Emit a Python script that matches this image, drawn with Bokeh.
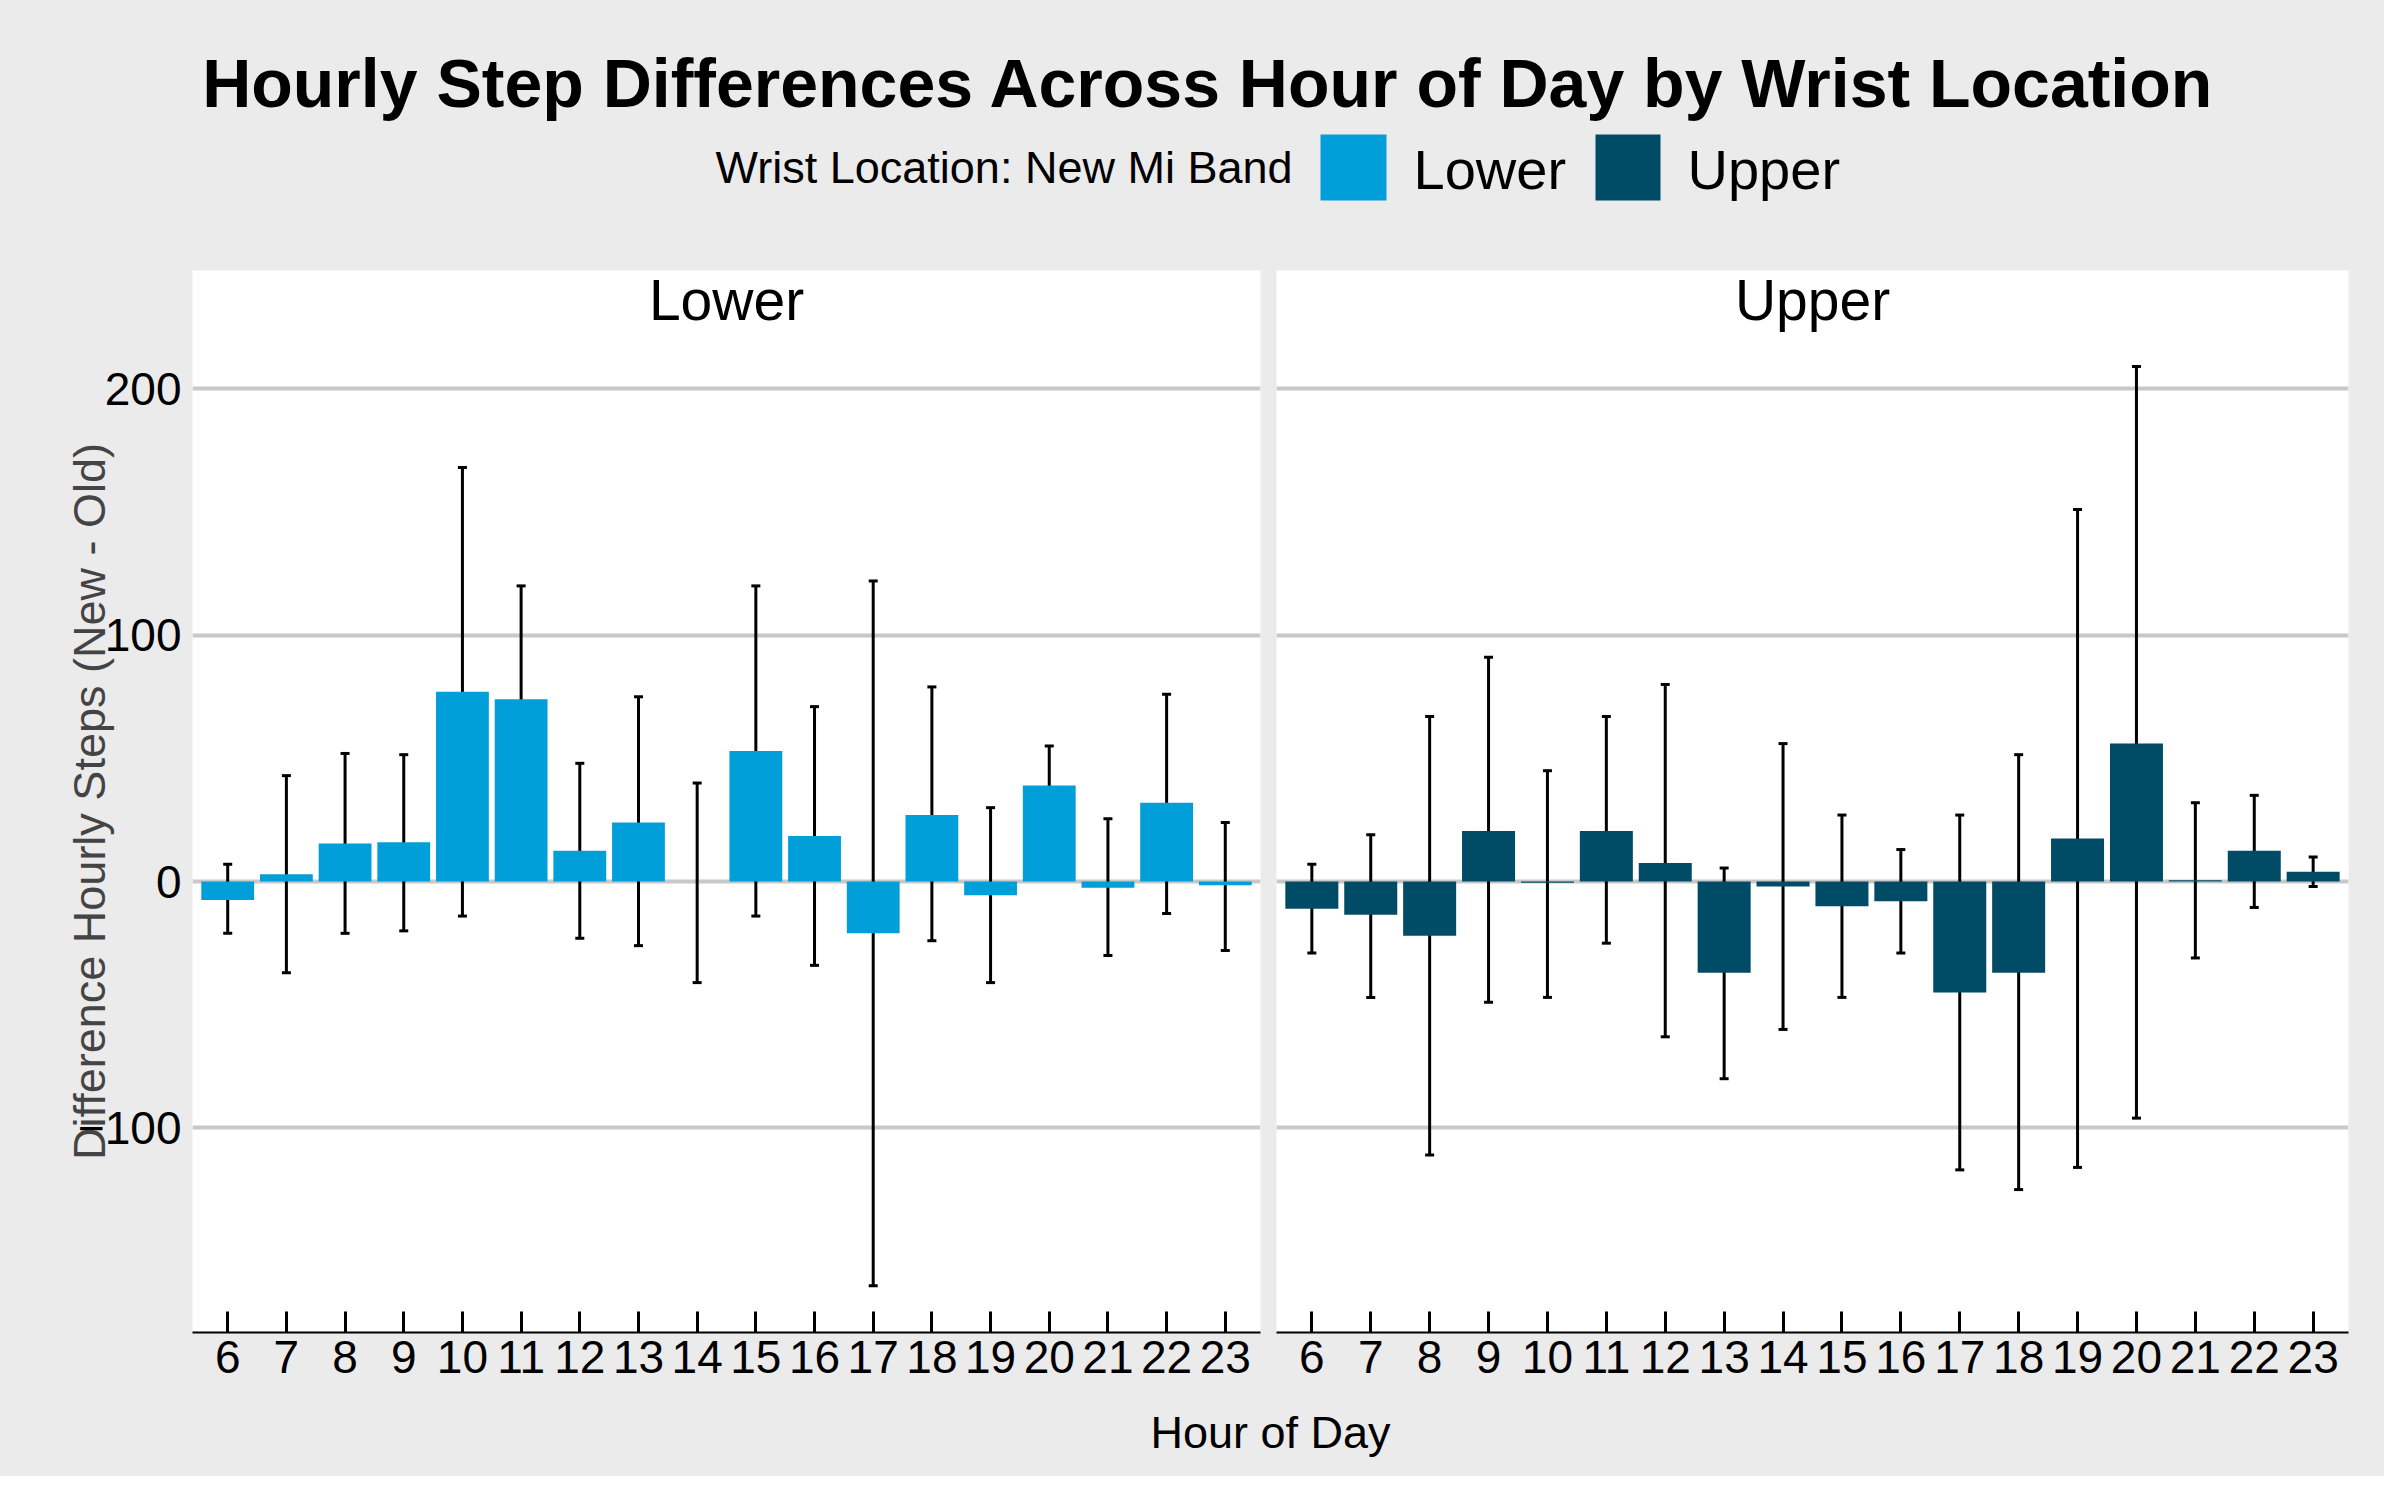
from bokeh.plotting import figure
from bokeh.layouts import column, row
from bokeh.models import Range1d, FixedTicker, Whisker, TeeHead, ColumnDataSource
from bokeh.core.properties import value
from bokeh.embed import file_html
from bokeh.resources import INLINE

hours = list(range(6, 24))
lower_mean = [-7.5, 3, 15.5, 16, 77, 74, 12.5, 24, 0, 53, 18.5, -21, 27, -5.5, 39, -2.5, 32, -1.5]
lower_hi = [7, 43, 52, 51.5, 168, 120, 48, 75, 40, 120, 71, 122, 79, 30, 55, 25.5, 76, 24]
lower_lo = [-21, -37, -21, -20, -14, 28, -23, -26, -41, -14, -34, -164, -24, -41, 23, -30, -13, -28]
upper_mean = [-11, -13.5, -22, 20.5, -0.5, 20.5, 7.5, -37, -2, -10, -8, -45, -37, 17.5, 56, 0.5, 12.5, 4]
upper_hi = [7, 19, 67, 91, 45, 67, 80, 5.5, 56, 27, 13, 27, 51.5, 151, 209, 32, 35, 10]
upper_lo = [-29, -47, -111, -49, -47, -25, -63, -80, -60, -47, -29, -117, -125, -116, -96, -31, -10.5, -2]
panels = ["Lower", "Upper"]
colors = ["#009FDA", "#004C66"]
y_ticks = [-100, 0, 100, 200]

FONT = "Liberation Sans"
BG = "#EBEBEB"

def panel(name, mean, lo, hi, color, first):
    p = figure(width=(192 + 1068 + 8) if first else (8 + 1072 + 28), height=1062 + 75,
               x_range=Range1d(5.4, 23.6), y_range=Range1d(-183, 248),
               output_backend="svg", toolbar_location=None,
               min_border_left=192 if first else 8, min_border_right=8 if first else 28,
               min_border_top=0, min_border_bottom=75)
    p.background_fill_color = "white"
    p.border_fill_color = BG
    p.outline_line_color = None
    p.xgrid.visible = False
    p.ygrid.ticker = FixedTicker(ticks=y_ticks)
    p.ygrid.grid_line_color = "#C8C8C8"
    p.ygrid.grid_line_width = 4
    src = ColumnDataSource(dict(x=hours, top=mean, lo=lo, hi=hi))
    p.vbar(x="x", top="top", bottom=0, width=0.9, source=src, fill_color=color, line_color=None)
    w = Whisker(base="x", lower="lo", upper="hi", source=src, line_color="black", line_width=3,
                lower_head=TeeHead(size=9, line_width=3, line_color="black"),
                upper_head=TeeHead(size=9, line_width=3, line_color="black"))
    p.add_layout(w)
    p.text(x=[14.5], y=[236], text=[name], text_align="center", text_baseline="middle",
           text_font=value(FONT), text_font_size="57px", text_color="black")
    xa = p.xaxis[0]
    xa.ticker = FixedTicker(ticks=hours)
    xa.axis_line_color = "black"
    xa.axis_line_width = 2
    xa.major_tick_in = 21
    xa.major_tick_out = 0
    xa.major_tick_line_width = 3
    xa.minor_tick_line_color = None
    xa.major_label_text_font = FONT
    xa.major_label_text_font_size = "46px"
    xa.major_label_text_color = "black"
    xa.major_label_standoff = 8
    ya = p.yaxis[0]
    ya.ticker = FixedTicker(ticks=y_ticks)
    ya.axis_line_color = None
    ya.major_tick_line_color = None
    ya.minor_tick_line_color = None
    ya.major_label_text_font = FONT
    ya.major_label_text_font_size = "46px"
    ya.major_label_text_color = "black"
    if first:
        ya.axis_label = "Difference Hourly Steps (New - Old)"
        ya.axis_label_text_font = FONT
        ya.axis_label_text_font_size = "45px"
        ya.axis_label_text_font_style = "normal"
        ya.axis_label_standoff = -40
    else:
        ya.visible = False
    return p

def blank(h):
    f = figure(width=2384, height=h, x_range=Range1d(0, 2384), y_range=Range1d(0, h),
               output_backend="svg", toolbar_location=None,
               min_border=0)
    f.axis.visible = False
    f.grid.visible = False
    f.outline_line_color = None
    f.background_fill_color = BG
    f.border_fill_color = BG
    return f

hdr = blank(270)
hdr.text(x=[1208], y=[188], text=["Hourly Step Differences Across Hour of Day by Wrist Location"],
         text_align="center", text_baseline="middle", text_font=value(FONT),
         text_font_size="68px", text_font_style="bold", text_color="black")
hdr.text(x=[1292], y=[103], text=["Wrist Location: New Mi Band"], text_align="right",
         text_baseline="middle", text_font=value(FONT), text_font_size="45px", text_color="black")
hdr.quad(left=[1320, 1595], right=[1386, 1660], bottom=[70, 70], top=[136, 136],
         fill_color=colors, line_color=None)
hdr.text(x=[1413, 1687], y=[101, 101], text=panels, text_align="left", text_baseline="middle",
         text_font=value(FONT), text_font_size="56px", text_color="black")

left = panel(panels[0], lower_mean, lower_lo, lower_hi, colors[0], True)
right = panel(panels[1], upper_mean, upper_lo, upper_hi, colors[1], False)

ftr = blank(69)
ftr.text(x=[1270], y=[44], text=["Hour of Day"], text_align="center", text_baseline="middle",
         text_font=value(FONT), text_font_size="45px", text_color="black")

layout = column(hdr, row(left, right, spacing=0), ftr, spacing=0, styles={"background-color": BG})
open("out.html", "w").write(file_html(layout, INLINE))
